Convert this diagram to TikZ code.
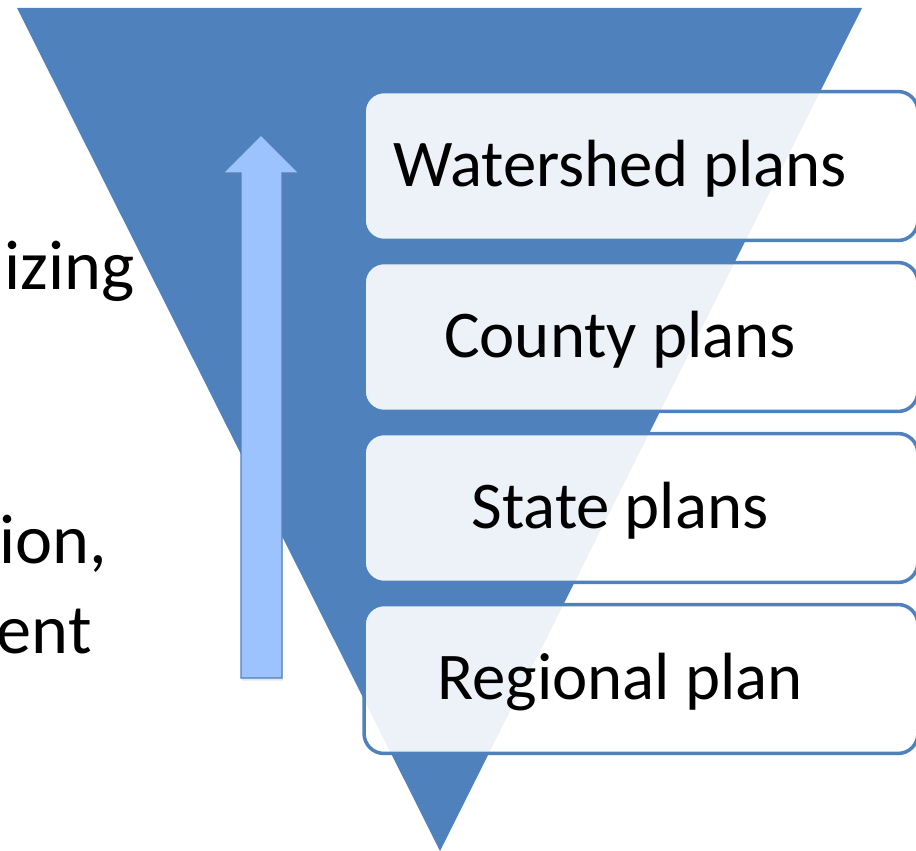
\documentclass[tikz,border=0pt]{standalone}
\usepackage{fontspec}
\setmainfont{Carlito}
\usetikzlibrary{shadows}

\definecolor{funnelblue}{HTML}{4F81BD}
\definecolor{arrowblue}{HTML}{9DC3FF}

\begin{document}
\begin{tikzpicture}[
    x=0.02cm, y=-0.02cm, % one unit = one pixel, y grows downwards
    planbox/.style={draw=funnelblue, line width=2pt, rounded corners=0.4cm,
        fill=white, fill opacity=0.9,
        minimum width=11.08cm, minimum height=2.98cm, inner sep=0pt}, % box behind each plan
    plantext/.style={font=\fontsize{38}{46}\selectfont, text=black, inner sep=0pt},
    sidetext/.style={font=\fontsize{40}{48}\selectfont, anchor=base east, inner sep=0pt},
    uparrow/.style={fill=arrowblue, draw=funnelblue, line width=0.8pt,
        drop shadow={shadow xshift=0.5pt, shadow yshift=-1.5pt, opacity=0.2}}
]
    \useasboundingbox (0,0) rectangle (916,851);
    \clip (0,0) rectangle (916,851);

    % Funnel corners
    \coordinate (TL) at (17,8);
    \coordinate (TR) at (862,8);
    \coordinate (Tip) at (440,851);
    \fill[funnelblue] (TL) -- (TR) -- (Tip) -- cycle;

    % Side text, running off the left edge
    \node[sidetext] (prio) at (135,290) {izing};
    \node[sidetext] (impl) at (107,563) {ion,};
    \node[sidetext] (mgmt) at (92,653) {ent};

    % Upward arrow
    \draw[uparrow] (241,678) -- (241,173) -- (223,173) -- (261,135)
        -- (299,173) -- (282,173) -- (282,678) -- cycle;

    % Plan boxes, top to bottom
    \node[planbox] (ws)  at (641,166) {};
    \node[planbox] (cty) at (641,337) {};
    \node[planbox] (st)  at (641,508) {};
    \node[planbox] (reg) at (641,679) {};

    % Plan labels
    \node[plantext] (wslabel)  at (620,169) {Watershed plans};
    \node[plantext] (ctylabel) at (620,340) {County plans};
    \node[plantext] (stlabel)  at (620,511) {State plans};
    \node[plantext] (reglabel) at (620,682) {Regional plan};

\end{tikzpicture}
\end{document}
